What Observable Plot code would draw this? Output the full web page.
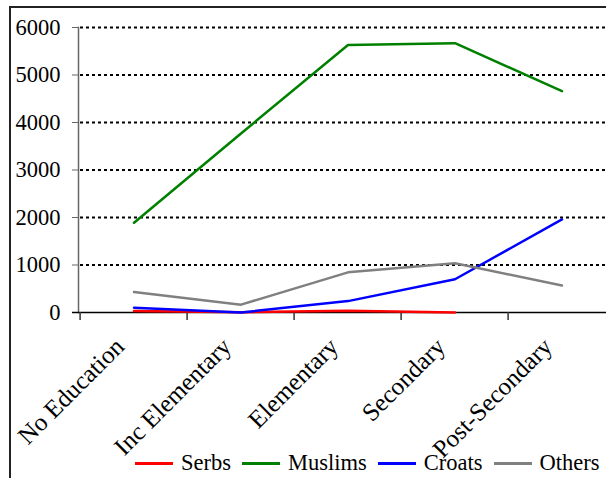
<!DOCTYPE html>
<html>
<head>
<meta charset="utf-8">
<script src="https://cdn.jsdelivr.net/npm/d3@7"></script>
<script src="https://cdn.jsdelivr.net/npm/@observablehq/plot@0.6"></script>
<style>
  body { margin: 0; width: 606px; height: 478px; overflow: hidden; position: relative; background: white; font-family: "Liberation Serif", "Times New Roman", serif; }
  #border { position: absolute; left: 9px; top: 6px; width: 800px; height: 800px; border: 2px solid #222; }
  #chart { position: absolute; left: 0; top: 0; width: 640px; }
  #chart svg { max-width: none !important; }
  #legend { position: absolute; left: 135px; top: 450px; display: flex; align-items: center; font-size: 22.5px; white-space: nowrap; }
  #legend .sw { display: inline-block; width: 38px; height: 3px; margin-right: 8px; }
  #legend .it { display: flex; align-items: center; margin-right: 11px; }
</style>
</head>
<body>
<div id="border"></div>
<div id="chart"></div>
<div id="legend"></div>
<script>
const categories = ["No Education", "Inc Elementary", "Elementary", "Secondary", "Post-Secondary"];
const serbs   = [30, 5, 35, 0, null];
const muslims = [1890, 3770, 5630, 5670, 4660];
const croats  = [100, 0, 240, 700, 1960];
const others  = [430, 165, 845, 1035, 570];
const seriesNames  = ["Serbs", "Muslims", "Croats", "Others"];
const seriesColors = ["#ff0000", "#008000", "#0000ff", "#808080"];
const yTicks = [0, 1000, 2000, 3000, 4000, 5000, 6000];

const seriesValues = [serbs, muslims, croats, others];
const rows = [];
seriesNames.forEach((s, si) => {
  categories.forEach((c, ci) => {
    const v = seriesValues[si][ci];
    if (v != null) rows.push({category: c, series: s, value: v});
  });
});

const W = 640, H = 440, ML = 78, MR = 23;
const bw = (W - ML - MR) / categories.length;

const chart = Plot.plot({
  width: W,
  height: H,
  marginLeft: ML,
  marginRight: MR,
  marginTop: 27,
  marginBottom: 128,
  style: {fontFamily: '"Liberation Serif", "Times New Roman", serif', fontSize: "22.5px", color: "black", background: "transparent", overflow: "visible", maxWidth: "none"},
  x: {type: "band", domain: categories, padding: 0},
  y: {domain: [0, 6000]},
  color: {domain: seriesNames, range: seriesColors},
  marks: [
    Plot.ruleY(yTicks.filter(d => d > 0), {stroke: "black", strokeWidth: 2, strokeDasharray: "3,3", insetLeft: 2}),
    Plot.frame({anchor: "left", stroke: "#666", strokeWidth: 1.5}),
    Plot.axisY({ticks: yTicks, tickSize: 6, tickPadding: 12, tickFormat: d => String(d), label: null, stroke: "#666", fill: "black"}),
    Plot.ruleY([0], {stroke: "black", strokeWidth: 1.5, insetLeft: -6}),
    Plot.ruleX(categories, {x: d => d, y1: 0, y2: 0, insetBottom: -8, dx: -bw / 2, stroke: "#333", strokeWidth: 1.5}),
    Plot.axisX({tickSize: 0, tickRotate: -45, tickPadding: 30, label: null, dx: -14, fontSize: 25}),
    Plot.line(rows, {x: "category", y: "value", z: "series", stroke: "series", strokeWidth: 2.5})
  ]
});
document.getElementById("chart").appendChild(chart);

const legend = document.getElementById("legend");
seriesNames.forEach((s, i) => {
  const it = document.createElement("span");
  it.className = "it";
  const sw = document.createElement("span");
  sw.className = "sw";
  sw.style.background = seriesColors[i];
  it.appendChild(sw);
  it.appendChild(document.createTextNode(s));
  legend.appendChild(it);
});
</script>
</body>
</html>
